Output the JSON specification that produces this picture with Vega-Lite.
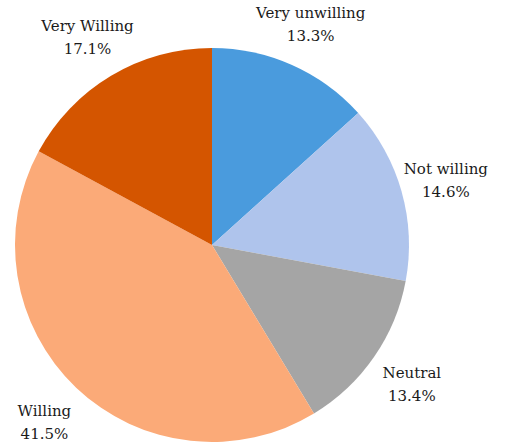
{
  "$schema": "https://vega.github.io/schema/vega-lite/v6.json",
  "width": 400,
  "height": 400,
  "autosize": {"type": "none"},
  "padding": {"left": 12, "top": 45, "right": 95, "bottom": 1},
  "background": "white",
  "config": {"view": {"stroke": null}, "font": "DejaVu Serif"},
  "data": {
    "values": [
      {"category": "Very unwilling", "value": 13.3, "label": "13.3%", "rank": 1},
      {"category": "Not willing", "value": 14.6, "label": "14.6%", "rank": 2},
      {"category": "Neutral", "value": 13.4, "label": "13.4%", "rank": 3},
      {"category": "Willing", "value": 41.5, "label": "41.5%", "rank": 4},
      {"category": "Very Willing", "value": 17.1, "label": "17.1%", "rank": 5}
    ]
  },
  "encoding": {
    "theta": {"field": "value", "type": "quantitative", "stack": true},
    "order": {"field": "rank", "type": "quantitative"},
    "color": {
      "field": "category",
      "type": "nominal",
      "sort": null,
      "legend": null,
      "scale": {
        "domain": ["Very unwilling", "Not willing", "Neutral", "Willing", "Very Willing"],
        "range": ["#4A9BDD", "#AFC4EC", "#A5A5A5", "#FBAA78", "#D45500"]
      }
    }
  },
  "layer": [
    {"mark": {"type": "arc", "outerRadius": 197}},
    {
      "mark": {"type": "text", "radius": 243, "dy": -10, "font": "DejaVu Serif", "fontSize": 15},
      "encoding": {"text": {"field": "category"}, "color": {"value": "#1a1a1a"}}
    },
    {
      "mark": {"type": "text", "radius": 243, "dy": 13, "font": "DejaVu Serif", "fontSize": 15},
      "encoding": {"text": {"field": "label"}, "color": {"value": "#1a1a1a"}}
    }
  ]
}
